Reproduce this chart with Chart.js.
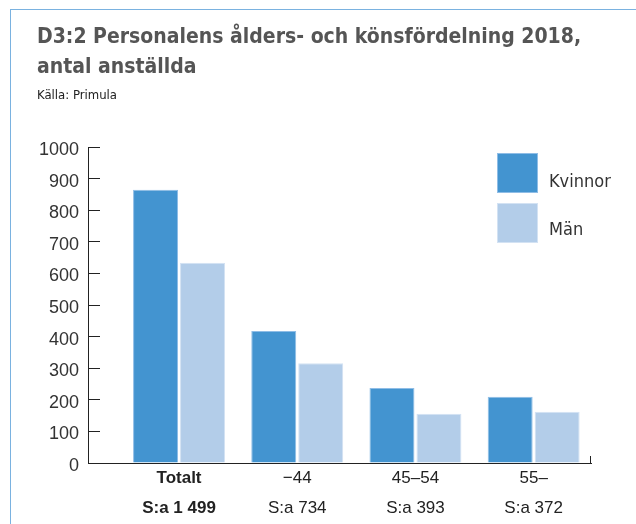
<!DOCTYPE html>
<html>
<head>
<meta charset="utf-8">
<script src="https://cdn.jsdelivr.net/npm/chart.js@4/dist/chart.umd.min.js"></script>
<style>
  html, body { margin: 0; padding: 0; background: #fff; }
  body { width: 636px; height: 524px; position: relative; overflow: hidden; }
  #frame { position: absolute; left: 10px; top: 9px; width: 640px; height: 530px;
           border-left: 1px solid #7ab2e0; border-top: 1px solid #7ab2e0; }
  #title { position: absolute; left: 37px; top: 21px; font-family: "Liberation Sans Narrow", "DejaVu Sans Condensed", "Liberation Sans", sans-serif;
           font-weight: bold; font-size: 21px; line-height: 30px; color: #555; white-space: nowrap; }
  #source { position: absolute; left: 37px; top: 87px; font-family: "Liberation Sans Narrow", "DejaVu Sans Condensed", "Liberation Sans", sans-serif;
            font-size: 13px; line-height: 15px; color: #222; }
  #chartWrap { position: absolute; left: 0; top: 0; width: 636px; height: 524px; }
  #legend { position: absolute; left: 497px; top: 153px; font-family: "Liberation Sans Narrow", "DejaVu Sans Condensed", "Liberation Sans", sans-serif; font-size: 18px; color: #333; }
  .item { position: relative; height: 50px; }
  .box { position: absolute; left: 0; top: 0; width: 41px; height: 40px; box-sizing: border-box; }
  .lab { position: absolute; left: 52px; top: 17px; line-height: 22px; white-space: nowrap; }
  .item + .item .lab { top: 15px; }
</style>
</head>
<body>
<div id="frame"></div>
<div id="chartWrap"><canvas id="c" width="636" height="524"></canvas></div>
<div id="title">D3:2 Personalens ålders- och könsfördelning 2018,<br>antal anställda</div>
<div id="source">Källa: Primula</div>
<div id="legend"></div>
<script>
const categories = ['Totalt', '\u221244', '45\u201354', '55\u2013'];
const sumLabels = ['S:a 1 499', 'S:a 734', 'S:a 393', 'S:a 372'];
const seriesNames = ['Kvinnor', 'M\u00e4n'];
const kvinnor = [865, 418, 237, 210];
const man = [634, 316, 156, 162];
const seriesColors = ['#4394d0', '#b3cde9'];
const seriesBorders = ['#8fbde6', '#d3e2f3'];

const toPoints = arr => arr.map((v, i) => ({ x: i, y: v }));

const legend = document.getElementById('legend');
seriesNames.forEach((n, i) => {
  const it = document.createElement('div');
  it.className = 'item';
  it.innerHTML = '<div class="box" style="background:' + seriesColors[i] + ';border:1px solid ' + seriesBorders[i] + '"></div><div class="lab">' + n + '</div>';
  legend.appendChild(it);
});

const tickCount = categories.length;

// small closing tick at the right end of the x axis
const axisEndTick = {
  id: 'axisEndTick',
  afterDraw(chart) {
    const xs = chart.scales.x, ys = chart.scales.y, ctx = chart.ctx;
    const px = Math.round(xs.right) - 0.5;
    const py = ys.getPixelForValue(0);
    ctx.save();
    ctx.strokeStyle = '#222';
    ctx.lineWidth = 1;
    ctx.beginPath();
    ctx.moveTo(px, py);
    ctx.lineTo(px, py - 7);
    ctx.stroke();
    ctx.restore();
  }
};

new Chart(document.getElementById('c'), {
  type: 'bar',
  data: {
    datasets: [
      { label: seriesNames[0], data: toPoints(kvinnor), backgroundColor: seriesColors[0], borderColor: seriesBorders[0], borderWidth: 1 },
      { label: seriesNames[1], data: toPoints(man), backgroundColor: seriesColors[1], borderColor: seriesBorders[1], borderWidth: 1 }
    ]
  },
  plugins: [axisEndTick],
  options: {
    responsive: false,
    animation: false,
    events: [],
    layout: { padding: { top: 147, right: 45, bottom: 0, left: 0 } },
    datasets: { bar: { categoryPercentage: 0.795, barPercentage: 0.957 } },
    plugins: { legend: { display: false }, tooltip: { enabled: false }, title: { display: false } },
    scales: {
      x: {
        type: 'linear',
        offset: false,
        min: -0.77,
        max: 3.485,
        afterBuildTicks: s => { s.ticks = categories.map((c, i) => ({ value: i })); },
        afterFit: s => { s.height = 61; },
        border: { display: true, color: '#222', width: 1 },
        grid: { display: false },
        ticks: {
          padding: -7,
          autoSkip: false,
          maxRotation: 0,
          color: '#222',
          font: ctx => ({ family: '"Liberation Sans", Arial, sans-serif', size: 17, lineHeight: 1.74, weight: ctx.index === 0 ? 'bold' : 'normal' }),
          callback: (v, i) => [categories[i], sumLabels[i]]
        }
      },
      y: {
        min: 0,
        max: 1000,
        afterFit: s => { s.width = 88; },
        border: { display: true, color: '#222', width: 1 },
        grid: { display: true, drawOnChartArea: false, drawTicks: true, tickLength: -12, color: '#222' },
        ticks: {
          stepSize: 100,
          padding: 21,
          labelOffset: 3,
          color: '#333',
          font: { family: '"Liberation Sans", Arial, sans-serif', size: 18 },
          callback: v => String(v)
        }
      }
    }
  }
});
</script>
</body>
</html>
